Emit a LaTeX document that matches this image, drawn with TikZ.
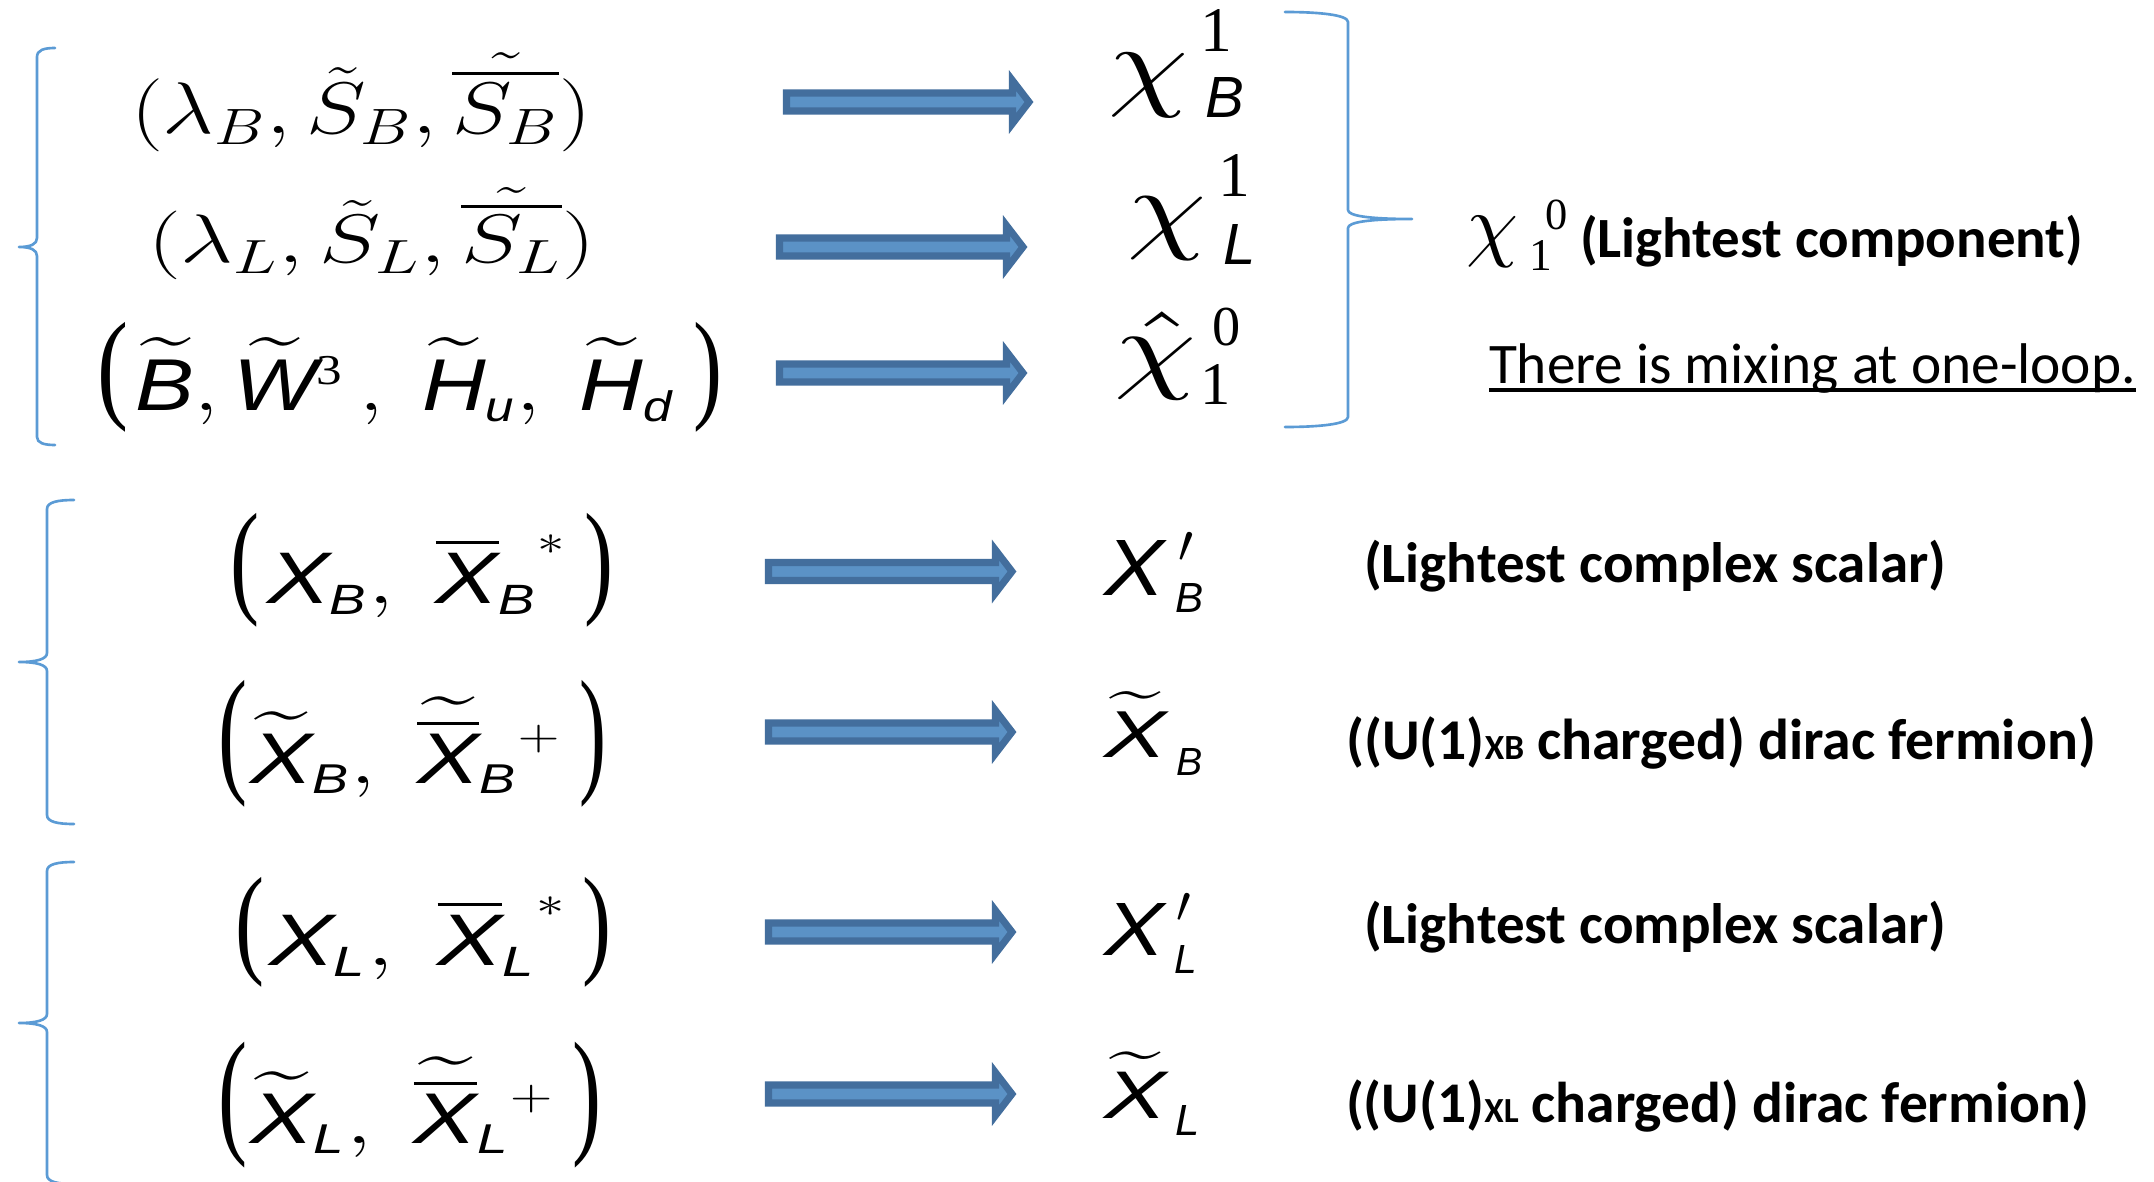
\RequirePackage{fix-cm}
\documentclass[tikz,border=0pt]{standalone}
\usepackage{fontspec}
\usepackage{amsmath}
\usepackage{graphicx}
\usetikzlibrary{calc}

\newfontfamily\calfont{Carlito}
\newfontfamily\arifont{Liberation Sans}
\newfontfamily\tmsfont{Liberation Serif}

% letters set in a sans italic / serif face inside formulas
\newcommand\ariI[1]{\text{\arifont\itshape #1}}
\newcommand\ariR[1]{\text{\arifont #1}}
\newcommand\tmsI[1]{\text{\tmsfont\itshape #1}}
\newcommand\tmsR[1]{\text{\tmsfont #1}}

\DeclareMathSizes{20}{20}{11.6}{9}

\newlength\px
\setlength\px{0.01cm}

\definecolor{bracecol}{RGB}{91,155,213}
\definecolor{arrowfill}{RGB}{91,146,198}
\definecolor{arrowedge}{RGB}{67,110,157}

\tikzset{
  fitbox/.style={anchor=north west, inner sep=0pt, outer sep=0pt},
  glyphbox/.style={anchor=north, inner sep=0pt, outer sep=0pt},
  label text/.style={anchor=base west, inner sep=0pt, outer sep=0pt},
  brace line/.style={draw=bracecol, line width=0.75pt, line cap=round, line join=round},
  fat arrow/.style={draw=arrowedge, fill=arrowfill, line width=2pt, line join=miter,
    to path={($(\tikztostart)+(0,-9)$) -- ($(\tikztotarget)+(-21.5,-9)$)
      -- ($(\tikztotarget)+(-21.5,-21.5)$) -- ($(\tikztotarget)+(-5,0)$)
      -- ($(\tikztotarget)+(-21.5,21.5)$) -- ($(\tikztotarget)+(-21.5,9)$)
      -- ($(\tikztostart)+(0,9)$) -- cycle}},
}

% a node whose box is stretched to a given width and total height
\newcommand\fitnode[5]{\node[fitbox] (#1) at (#2) {\resizebox*{#3\px}{#4\px}{#5}};}
% a single symbol, hung from the middle of its top edge
\newcommand\glyph[5]{\node[glyphbox] (#1) at (#2) {\resizebox*{#3}{#4\px}{#5}};}
\newcommand\lpar{\tmsfont (}
\newcommand\rpar{\tmsfont )}

\begin{document}
\begin{tikzpicture}[x=0.01cm, y=-0.01cm]
\fill[white] (0,0) rectangle (2154,1182);
\useasboundingbox (0,0) rectangle (2154,1182);

% ---------- braces ----------
\draw[brace line] (55,48) .. controls (44,48) and (37,50) .. (37,57) -- (37,238)
  .. controls (37,244) and (31,247) .. (19,247) .. controls (31,247) and (37,250) .. (37,256)
  -- (37,437) .. controls (37,443) and (44,445) .. (55,445);
\draw[brace line] (74,500) .. controls (58,500) and (47,502) .. (47,509) -- (47,653)
  .. controls (47,659) and (37,662) .. (19,662) .. controls (37,662) and (47,665) .. (47,671)
  -- (47,815) .. controls (47,822) and (58,824) .. (74,824);
\draw[brace line] (74,862) .. controls (58,862) and (47,864) .. (47,871) -- (47,1014)
  .. controls (47,1020) and (37,1023) .. (19,1023) .. controls (37,1023) and (47,1026) .. (47,1032)
  -- (47,1175) .. controls (47,1182) and (58,1184) .. (74,1184);
\draw[brace line] (1285,12) .. controls (1320,12) and (1348,15) .. (1348,22) -- (1348,210)
  .. controls (1348,216) and (1370,219) .. (1412,219) .. controls (1370,219) and (1348,222) .. (1348,228)
  -- (1348,417) .. controls (1348,424) and (1320,427) .. (1285,427);

% ---------- left column: multiplets ----------
\fitnode{r1}{131,53}{460}{99}{\fontsize{21}{25}\selectfont
  $(\lambda_B,\tilde{S}_B,\tilde{\overline{S_B}})$}
\fitnode{r2}{148,187}{447}{93}{\fontsize{21}{25}\selectfont
  $(\lambda_L,\tilde{S}_L,\tilde{\overline{S_L}})$}

\fitnode{r3l}{97,322}{31}{110}{\lpar}
\fitnode{r3}{136,338}{538}{87}{\fontsize{20}{24}\selectfont
  $\widetilde{\ariI{B}},\widetilde{\ariI{W}}{}^{\tmsR{3}}\,,\;\widetilde{\ariI{H}}_{\ariI{u}},\;\widetilde{\ariI{H}}_{\ariI{d}}$}
\fitnode{r3r}{693,322}{29}{110}{\rpar}

\fitnode{r4l}{230,513}{29}{114}{\lpar}
\fitnode{r4}{267,535}{300}{83}{\fontsize{20}{24}\selectfont
  $\ariI{X}_{\ariI{B}},\;\overline{\ariI{X}}_{\ariI{B}}{\vphantom{\overline{\ariI{X}}}}^{*}$}
\fitnode{r4r}{584,513}{29}{114}{\rpar}

\fitnode{r5l}{218,680}{29}{127}{\lpar}
\fitnode{r5}{250,697}{312}{100}{\fontsize{20}{24}\selectfont
  $\widetilde{\ariI{X}}_{\ariI{B}},\;\widetilde{\overline{\ariI{X}}}_{\ariI{B}}{\vphantom{\ariI{X}}}^{+}$}
\fitnode{r5r}{579,680}{27}{127}{\rpar}

\fitnode{r6l}{235,877}{29}{110}{\lpar}
\fitnode{r6}{269,897}{298}{83}{\fontsize{20}{24}\selectfont
  $\ariI{X}_{\ariI{L}},\;\overline{\ariI{X}}_{\ariI{L}}{\vphantom{\overline{\ariI{X}}}}^{*}$}
\fitnode{r6r}{582,877}{29}{110}{\rpar}

\fitnode{r7l}{218,1042}{29}{126}{\lpar}
\fitnode{r7}{250,1057}{305}{100}{\fontsize{20}{24}\selectfont
  $\widetilde{\ariI{X}}_{\ariI{L}},\;\widetilde{\overline{\ariI{X}}}_{\ariI{L}}{\vphantom{\ariI{X}}}^{+}$}
\fitnode{r7r}{572,1042}{29}{126}{\rpar}

% ---------- right column: mass states ----------
% chi^1_B
\glyph{c1chi}{1148,53}{80\px}{64}{$\chi$}
\glyph{c1sup}{1216,10}{!}{42}{\tmsfont 1}
\glyph{c1sub}{1225,78}{!}{40}{\arifont\itshape B}
% chi^1_L
\glyph{c2chi}{1167,197}{79\px}{63}{$\chi$}
\glyph{c2sup}{1234,155}{!}{42}{\tmsfont 1}
\glyph{c2sub}{1240,225}{!}{40}{\arifont\itshape L}
% hat chi^0_1
\glyph{c3chi}{1155,312}{82\px}{88}{$\hat{\chi}$}
\glyph{c3sup}{1227,308}{!}{38}{\tmsfont 0}
\glyph{c3sub}{1216,364}{!}{40}{\tmsfont 1}
% chi^0_1 before the comment
\glyph{c4chi}{1492,216}{52\px}{51}{$\chi$}
\glyph{c4sub}{1541,241}{!}{30}{\tmsfont 1}
\glyph{c4sup}{1557,200}{!}{30}{\tmsfont 0}

% X'_B and tilde X_B
\glyph{x1X}{1134,540}{60\px}{55}{\arifont\itshape X}
\glyph{x1p}{1186,532}{!}{30}{$\prime$}
\glyph{x1sub}{1190,583}{!}{29}{\arifont\itshape B}
\glyph{x2X}{1135,692}{62\px}{65}{$\widetilde{\ariI{X}}$}
\glyph{x2sub}{1190,748}{!}{27}{\arifont\itshape B}
% X'_L and tilde X_L
\glyph{x3X}{1134,903}{60\px}{52}{\arifont\itshape X}
\glyph{x3p}{1184,893}{!}{29}{$\prime$}
\glyph{x3sub}{1186,945}{!}{28}{\arifont\itshape L}
\glyph{x4X}{1135,1052}{62\px}{66}{$\widetilde{\ariI{X}}$}
\glyph{x4sub}{1188,1105}{!}{30}{\arifont\itshape L}

% ---------- comments ----------
\node[label text] (lc) at (1580,257) {\resizebox{503\px}{!}{\calfont\bfseries\fontsize{15.5}{18}\selectfont (Lightest component)}};
\node[label text] (mix) at (1489,383) {\resizebox{647\px}{!}{\calfont\fontsize{16}{19}\selectfont There is mixing at one-loop.}};
\draw[line width=1.3pt] ($(mix.base west)+(0,7)$) -- ($(mix.base east)+(0,7)$);

\node[label text] (ls1) at (1364,582) {\resizebox{582\px}{!}{\calfont\bfseries\fontsize{15.5}{18}\selectfont (Lightest complex scalar)}};
\node[label text] (df1) at (1346,759) {\resizebox{750\px}{!}{\calfont\bfseries\fontsize{15.5}{18}\selectfont ((U(1){\fontsize{9.5}{11}\selectfont XB} charged) dirac fermion)}};
\node[label text] (ls2) at (1364,943) {\resizebox{582\px}{!}{\calfont\bfseries\fontsize{15.5}{18}\selectfont (Lightest complex scalar)}};
\node[label text] (df2) at (1346,1122) {\resizebox{743\px}{!}{\calfont\bfseries\fontsize{15.5}{18}\selectfont ((U(1){\fontsize{9.5}{11}\selectfont XL} charged) dirac fermion)}};

% ---------- block arrows ----------
\coordinate (t1) at (786.5,102);  \coordinate (h1) at (1034,102);
\coordinate (t2) at (779.5,247);  \coordinate (h2) at (1028,247);
\coordinate (t3) at (779.5,373);  \coordinate (h3) at (1028,373);
\coordinate (t4) at (768.5,571.5); \coordinate (h4) at (1017,571.5);
\coordinate (t5) at (768.5,732);  \coordinate (h5) at (1017,732);
\coordinate (t6) at (768.5,932);  \coordinate (h6) at (1017,932);
\coordinate (t7) at (768.5,1094); \coordinate (h7) at (1017,1094);
\foreach \i in {1,...,7} \draw[fat arrow] (t\i) to (h\i);
\end{tikzpicture}
\end{document}
